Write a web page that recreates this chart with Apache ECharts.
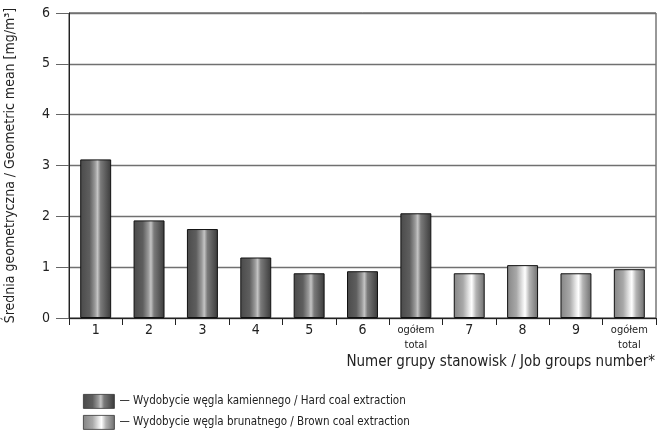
<!DOCTYPE html>
<html><head><meta charset="utf-8">
<script src="https://cdn.jsdelivr.net/npm/echarts@6/dist/echarts.min.js"></script>
<style>html,body{margin:0;padding:0;background:#fff}#c{width:658px;height:431px}</style>
</head><body><div id="c"></div>
<script>
const categories = ['1','2','3','4','5','6','ogółem\ntotal','7','8','9','ogółem\ntotal'];
const hardCoal = [3.12, 1.92, 1.75, 1.19, 0.88, 0.92, 2.06, null, null, null, null];
const brownCoal = [null, null, null, null, null, null, null, 0.88, 1.04, 0.88, 0.96];
const yTicks = [0,1,2,3,4,5,6];
const seriesNames = ['— Wydobycie węgla kamiennego / Hard coal extraction', '— Wydobycie węgla brunatnego / Brown coal extraction'];
const xAxisName = 'Numer grupy stanowisk / Job groups number*';
const yAxisName = 'Średnia geometryczna / Geometric mean [mg/m³]';

const FONT = "'Liberation Sans Narrow','DejaVu Sans Condensed','Roboto',sans-serif";
const darkGrad = new echarts.graphic.LinearGradient(0,0,1,0,[
  {offset:0,color:'#4a4a4a'},{offset:0.3,color:'#5e5e5e'},{offset:0.48,color:'#9a9a9a'},
  {offset:0.56,color:'#c4c4c4'},{offset:0.66,color:'#7a7a7a'},{offset:1,color:'#3a3a3a'}]);
const lightGrad = new echarts.graphic.LinearGradient(0,0,1,0,[
  {offset:0,color:'#858585'},{offset:0.3,color:'#a8a8a8'},{offset:0.5,color:'#e8e8e8'},
  {offset:0.58,color:'#ffffff'},{offset:0.72,color:'#b4b4b4'},{offset:1,color:'#6e6e6e'}]);

const legendCommon = {orient:'vertical', left:83, itemWidth:31, itemHeight:14, itemGap:7, icon:'rect', selectedMode:false,
  textStyle:{fontFamily:FONT,fontSize:11.5,color:'#222'}, padding:0,
  itemStyle:{borderWidth:0.8,borderColor:'#333'}};

const chart = echarts.init(document.getElementById('c'), null, {renderer:'canvas'});
chart.setOption({
  animation:false,
  textStyle:{fontFamily:FONT},
  title:{text:xAxisName, right:3, top:355, padding:0,
    textStyle:{fontFamily:FONT,fontSize:15,fontWeight:'normal',color:'#222'}},
  grid:{left:69,right:2,top:13,bottom:113,show:true,borderColor:'#333',borderWidth:1,outerBoundsMode:'none',containLabel:false},
  legend:[
    Object.assign({}, legendCommon, {top:394, data:[seriesNames[0]]}),
    Object.assign({}, legendCommon, {top:415, data:[seriesNames[1]]})
  ],
  xAxis:{
    type:'category', data:categories,
    axisLine:{lineStyle:{color:'#222'}},
    axisTick:{show:true,alignWithLabel:false,length:7,lineStyle:{color:'#222'}},
    axisLabel:{
      interval:0, margin:5, color:'#222', fontSize:14,
      formatter:function(v){ if(v.indexOf('\n')>=0){const p=v.split('\n');return '{s|'+p[0]+'}\n{s|'+p[1]+'}';} return v; },
      rich:{s:{fontSize:11,fontFamily:FONT,color:'#222',lineHeight:15}}
    }
  },
  yAxis:{
    type:'value', min:0, max:6, interval:1,
    name:yAxisName,
    nameLocation:'middle', nameGap:52, nameRotate:90,
    nameTextStyle:{fontFamily:FONT,fontSize:14,color:'#222'},
    axisLine:{show:true,lineStyle:{color:'#222'}},
    axisTick:{show:true,length:13,lineStyle:{color:'#666'}},
    axisLabel:{color:'#222',fontSize:14,margin:19},
    splitLine:{show:true,lineStyle:{color:'#707070',width:1.3}}
  },
  series:[
    {name:seriesNames[0], type:'bar', data:hardCoal, barWidth:'58%', barGap:'-100%',
     itemStyle:{color:darkGrad,borderColor:'#111',borderWidth:1}},
    {name:seriesNames[1], type:'bar', data:brownCoal, barWidth:'58%', barGap:'-100%',
     itemStyle:{color:lightGrad,borderColor:'#111',borderWidth:1}}
  ]
});
</script></body></html>
